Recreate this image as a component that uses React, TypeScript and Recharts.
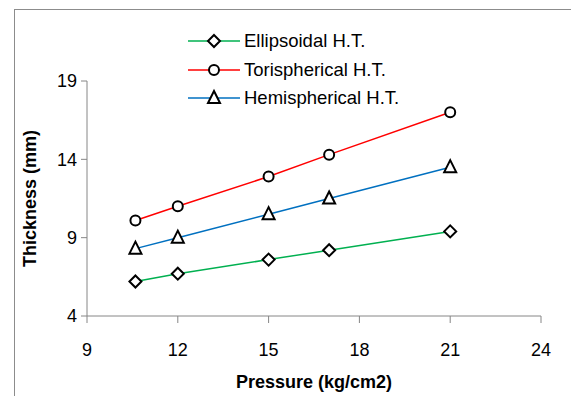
import React from 'react';
import { LineChart, Line, XAxis, YAxis } from 'recharts';

const pressures = [10.6, 12, 15, 17, 21];
const ellipsoidal = [6.2, 6.7, 7.6, 8.2, 9.4];
const torispherical = [10.1, 11.0, 12.9, 14.3, 17.0];
const hemispherical = [8.3, 9.0, 10.5, 11.5, 13.5];
const xTicks = [9, 12, 15, 18, 21, 24];
const yTicks = [4, 9, 14, 19];

const data = pressures.map((p, i) => ({
  pressure: p,
  ellipsoidal: ellipsoidal[i],
  torispherical: torispherical[i],
  hemispherical: hemispherical[i],
}));

const FONT = '"Liberation Sans", Arial, sans-serif';
const AXIS = '#868686';

function Diamond({ cx, cy }: any) {
  if (cx == null || cy == null) return null;
  const s = 6;
  return (
    <polygon
      points={`${cx},${cy - s} ${cx + s},${cy} ${cx},${cy + s} ${cx - s},${cy}`}
      fill="#fff"
      stroke="#000"
      strokeWidth={2}
    />
  );
}

function Circle({ cx, cy }: any) {
  if (cx == null || cy == null) return null;
  return <circle cx={cx} cy={cy} r={5} fill="#fff" stroke="#000" strokeWidth={2} />;
}

function Triangle({ cx, cy }: any) {
  if (cx == null || cy == null) return null;
  return (
    <polygon
      points={`${cx},${cy - 7} ${cx + 6},${cy + 5} ${cx - 6},${cy + 5}`}
      fill="#fff"
      stroke="#000"
      strokeWidth={2}
    />
  );
}

const legendItems = [
  { name: 'Ellipsoidal H.T.', color: '#00B050', Shape: Diamond },
  { name: 'Torispherical H.T.', color: '#FF0000', Shape: Circle },
  { name: 'Hemispherical H.T.', color: '#0070C0', Shape: Triangle },
];

export default function App() {
  return (
    <div
      style={{
        position: 'absolute',
        left: 0,
        top: 0,
        width: 571,
        height: 396,
        overflow: 'hidden',
        background: '#fff',
        fontFamily: FONT,
      }}
    >
      {/* outer frame */}
      <div
        style={{
          position: 'absolute',
          left: 14,
          top: 9,
          width: 700,
          height: 600,
          border: '1.5px solid #8c8c8c',
        }}
      />
      <LineChart
        width={571}
        height={396}
        data={data}
        margin={{ top: 81, right: 30, bottom: 14, left: 47 }}
        style={{ position: 'absolute', left: 0, top: 0 }}
      >
        <XAxis
          type="number"
          dataKey="pressure"
          domain={[9, 24]}
          ticks={xTicks}
          allowDataOverflow
          stroke={AXIS}
          tickSize={7}
          tickMargin={20}
          tick={{ fill: '#000', fontSize: 18, fontFamily: FONT }}
          height={66}
          label={{
            value: 'Pressure (kg/cm2)',
            position: 'insideBottom',
            offset: -6,
            fill: '#000',
            fontSize: 18,
            fontWeight: 'bold',
            fontFamily: FONT,
          }}
        />
        <YAxis
          type="number"
          domain={[4, 19]}
          ticks={yTicks}
          allowDataOverflow
          stroke={AXIS}
          tickSize={6}
          tickMargin={4}
          tick={{ fill: '#000', fontSize: 18, fontFamily: FONT }}
          width={40}
          label={{
            value: 'Thickness (mm)',
            angle: -90,
            position: 'insideLeft',
            dx: -22,
            dy: 0,
            style: { textAnchor: 'middle' },
            fill: '#000',
            fontSize: 18,
            fontWeight: 'bold',
            fontFamily: FONT,
          }}
        />
        <Line
          dataKey="ellipsoidal"
          stroke="#00B050"
          strokeWidth={1.5}
          dot={<Diamond />}
          activeDot={false}
          isAnimationActive={false}
        />
        <Line
          dataKey="torispherical"
          stroke="#FF0000"
          strokeWidth={1.5}
          dot={<Circle />}
          activeDot={false}
          isAnimationActive={false}
        />
        <Line
          dataKey="hemispherical"
          stroke="#0070C0"
          strokeWidth={1.5}
          dot={<Triangle />}
          activeDot={false}
          isAnimationActive={false}
        />
      </LineChart>
      {/* legend */}
      <div style={{ position: 'absolute', left: 188, top: 27 }}>
        {legendItems.map(({ name, color, Shape }) => (
          <div key={name} style={{ display: 'flex', alignItems: 'center', height: 28.5 }}>
            <svg width={52} height={20}>
              <line x1={0} y1={10} x2={52} y2={10} stroke={color} strokeWidth={1.5} />
              <Shape cx={26} cy={10} />
            </svg>
            <span style={{ marginLeft: 4, fontSize: 18.5, color: '#000', whiteSpace: 'nowrap' }}>
              {name}
            </span>
          </div>
        ))}
      </div>
    </div>
  );
}
